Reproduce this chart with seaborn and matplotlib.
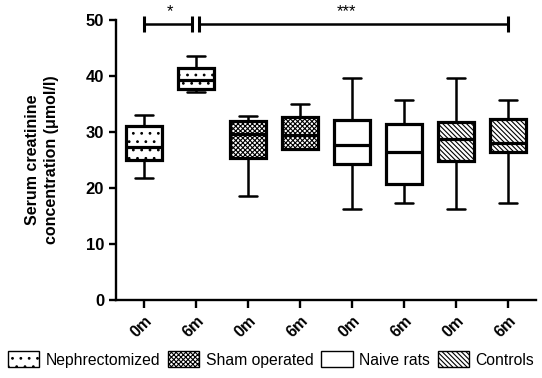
import pandas as pd
import numpy as np
from matplotlib import pyplot as plt
from matplotlib.patches import Patch
import seaborn as sns

sns.set_style("ticks")
plt.rcParams['font.family'] = ['Liberation Sans', 'DejaVu Sans']
plt.rcParams['hatch.linewidth'] = 0.8
plt.rcParams['text.color'] = 'black'
plt.rcParams['axes.labelcolor'] = 'black'
plt.rcParams['xtick.color'] = 'black'
plt.rcParams['ytick.color'] = 'black'
plt.rcParams['axes.edgecolor'] = 'black'

# five-number summaries: min, Q1, median, Q3, max
groups = ["Nephrectomized", "Nephrectomized", "Sham operated", "Sham operated",
          "Naive rats", "Naive rats", "Controls", "Controls"]
times = ["0m", "6m", "0m", "6m", "0m", "6m", "0m", "6m"]
mins = [21.8, 37.1, 18.5, 26.9, 16.3, 17.4, 16.3, 17.4]
q1s = [25.1, 37.6, 25.4, 27.0, 24.3, 20.7, 24.9, 26.5]
medians = [27.3, 39.3, 29.6, 29.5, 27.7, 26.4, 28.7, 28.0]
q3s = [31.1, 41.5, 32.0, 32.7, 32.1, 31.5, 31.8, 32.3]
maxs = [33.1, 43.6, 32.9, 35.0, 39.6, 35.8, 39.6, 35.8]

legend_labels = ["Nephrectomized", "Sham operated", "Naive rats", "Controls"]
hatch_for = {"Nephrectomized": "..", "Sham operated": "xxxxxxx",
             "Naive rats": "", "Controls": "\\\\\\\\\\\\\\"}

slots = [f"{g} {t}" for g, t in zip(groups, times)]
rows = []
for s, a, b, c, d, e in zip(slots, mins, q1s, medians, q3s, maxs):
    for v in (a, b, c, d, e):
        rows.append({"slot": s, "value": v})
df = pd.DataFrame(rows)

fig = plt.figure(figsize=(5.42, 3.78), dpi=100)
ax = fig.add_axes([0.214, 0.206, 0.775, 0.741])

sns.boxplot(data=df, x="slot", y="value", order=slots, whis=(0, 100),
            width=0.7, color="white", linecolor="black", linewidth=2.3,
            whiskerprops=dict(linewidth=1.8), capprops=dict(linewidth=1.8),
            ax=ax)

for patch, g in zip(ax.patches, groups):
    patch.set_hatch(hatch_for[g])

ax.set_xlim(-0.54, 7.54)
ax.set_ylim(0, 50)
ax.set_yticks([0, 10, 20, 30, 40, 50])
ax.set_xticks(range(len(times)))
ax.set_xticklabels(times, rotation=45, ha="right", rotation_mode="anchor",
                   fontsize=11.5, fontweight="bold")
for lab in ax.get_yticklabels():
    lab.set_fontweight("bold")
    lab.set_fontsize(12)
ax.set_xlabel("")
ax.set_ylabel("Serum creatinine\nconcentration (μmol/l)", fontsize=11.5,
              fontweight="bold", labelpad=19, linespacing=1.4)
sns.despine(ax=ax)
for sp in ("left", "bottom"):
    ax.spines[sp].set_linewidth(1.7)
ax.tick_params(width=1.7, length=5)
ax.tick_params(axis="x", length=6)

# significance bars
ax.plot([0, 0.92], [49.3, 49.3], color="black", lw=1.8, marker="|", ms=11,
        mew=2.2, clip_on=False)
ax.plot([1.06, 7.0], [49.3, 49.3], color="black", lw=1.8, marker="|", ms=11,
        mew=2.2, clip_on=False)
ax.text(0.5, 50.2, "*", ha="center", va="bottom", fontsize=12, clip_on=False)
ax.text(3.9, 50.2, "***", ha="center", va="bottom", fontsize=12, clip_on=False)

handles = [Patch(facecolor="white", edgecolor="black", hatch=hatch_for[g],
                 linewidth=1) for g in legend_labels]
fig.legend(handles, legend_labels, loc="lower center", ncol=4, frameon=False,
           bbox_to_anchor=(0.5, -0.01), fontsize=11.3, handlelength=2.0,
           handleheight=1.2, handletextpad=0.4, columnspacing=0.5)

fig.savefig("out.png", dpi=100)
